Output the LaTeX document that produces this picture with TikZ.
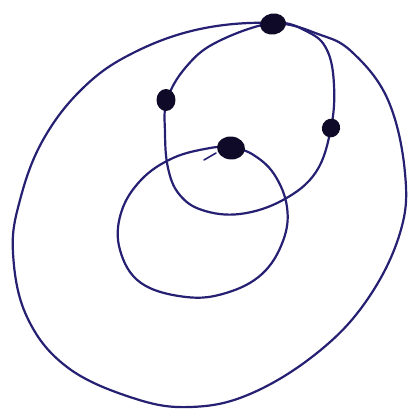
\documentclass[tikz,border=0pt]{standalone}
\usetikzlibrary{shapes.geometric}
\begin{document}
\begin{tikzpicture}[x=1pt,y=-1pt,
  ink/.style={draw=inkblue,line width=2.2pt,line cap=round,line join=round},
  dot/.style={ellipse,fill=dotink,inner sep=0pt}]
\definecolor{inkblue}{RGB}{38,32,115}
\definecolor{dotink}{RGB}{15,10,40}
\useasboundingbox[fill=white] (0,0) rectangle (414,416);
% outer oval
\draw[ink] plot[smooth cycle,tension=0.65] coordinates {
 (273,23) (200,29) (133,53) (83,88) (43,140) (20,200) (13,253) (27,317)
 (67,367) (133,398) (190,407) (250,394) (317,353) (367,300) (400,233)
 (405,173) (388,100) (352,52) (318,34)};
% middle loop
\draw[ink] plot[smooth cycle,tension=0.65] coordinates {
 (273,23) (217,42) (186,67) (167,100) (165,133) (168,168) (179,194)
 (202,210) (240,214) (283,200) (316,172) (331,128) (334,85) (327,50) (308,32)};
% small loop
\draw[ink] plot[smooth,tension=0.65] coordinates {
 (231,147) (252,154) (274,174) (287,207) (283,241) (262,274) (226,293)
 (186,297) (141,283) (120,250) (121,213) (141,180) (173,158) (210,148) (230,147)};
\draw[ink,line width=1.6pt] (204,160) -- (216,153);
% dots
\node[dot,minimum width=26pt,minimum height=21pt,rotate=10] (top) at (273,24) {};
\node[dot,minimum width=19pt,minimum height=22pt] (left) at (166,100) {};
\node[dot,minimum width=18pt,minimum height=19pt,rotate=-30] (right) at (331,128) {};
\node[dot,minimum width=28pt,minimum height=23pt,rotate=-5] (center) at (231,148) {};
\end{tikzpicture}
\end{document}
